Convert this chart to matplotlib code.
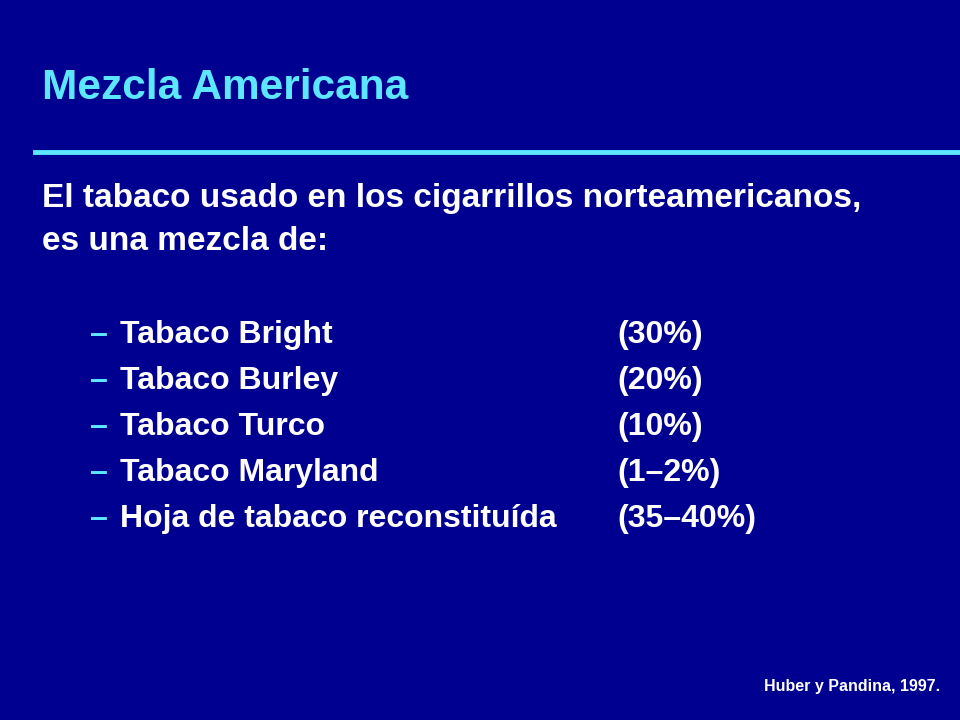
import matplotlib.pyplot as plt
from matplotlib.lines import Line2D

plt.rcParams['font.family'] = ['Liberation Sans', 'DejaVu Sans']

title = "Mezcla Americana"
intro = ["El tabaco usado en los cigarrillos norteamericanos,", "es una mezcla de:"]
items = ["Tabaco Bright", "Tabaco Burley", "Tabaco Turco", "Tabaco Maryland",
         "Hoja de tabaco reconstituída"]
shares = ["(30%)", "(20%)", "(10%)", "(1–2%)", "(35–40%)"]
source = "Huber y Pandina, 1997."

bg = "#000090"
cyan = "#5CE6FF"

fig = plt.figure(figsize=(9.6, 7.2), dpi=100, facecolor=bg)
W, H = 960, 720

def put(x, y, s, **kw):
    fig.text(x / W, 1 - y / H, s, va="center", fontweight="bold", **kw)

put(42, 88, title, color=cyan, fontsize=30.5)
fig.add_artist(Line2D([35 / W, 1], [1 - 152 / H] * 2, color=cyan, lw=3.5,
                      transform=fig.transFigure))
for i, line in enumerate(intro):
    put(42, 198 + i * 44, line, color="white", fontsize=24)
for i, (it, sh) in enumerate(zip(items, shares)):
    y = 335 + i * 46
    put(90, y, "–", color=cyan, fontsize=23)
    put(120, y, it, color="white", fontsize=23)
    put(617, y, sh, color="white", fontsize=23)
fig.text(940 / W, 1 - 686 / H, source, ha="right", va="center", color="white",
         fontsize=11.5, fontweight="bold")

fig.savefig("out.png", facecolor=bg)
